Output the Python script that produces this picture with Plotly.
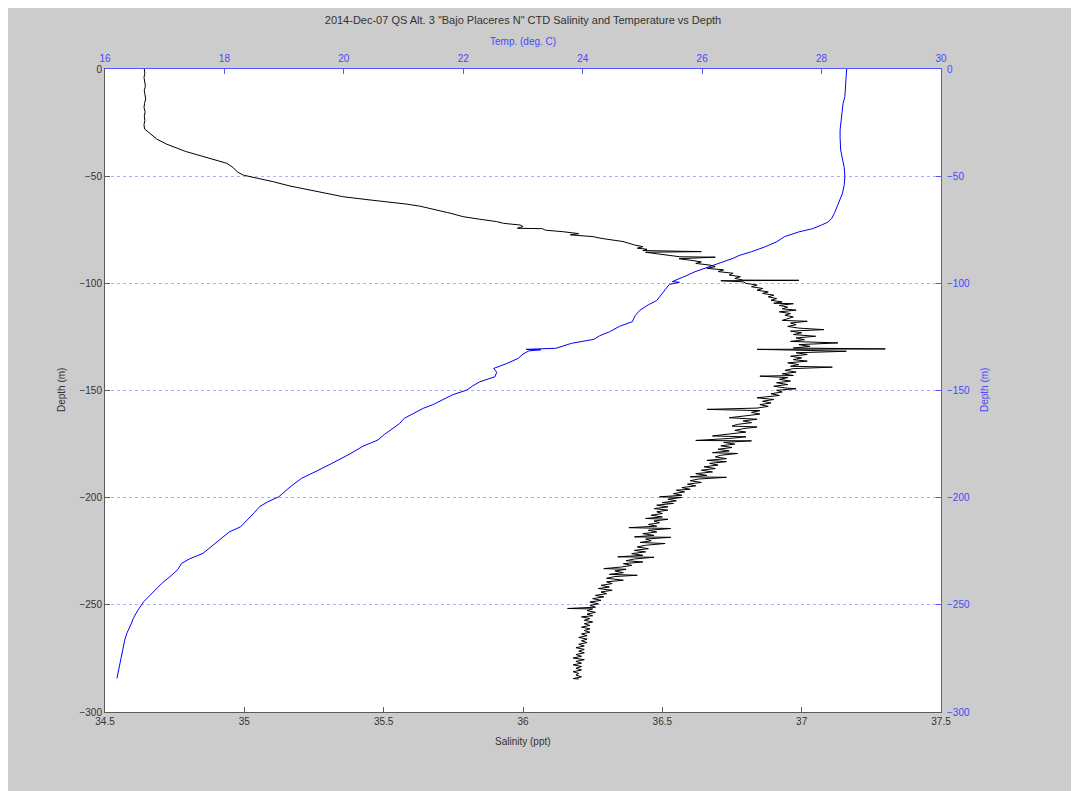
import plotly.graph_objects as go

# ---------------- data ----------------
sal_depth = [0, 2, 4, 6, 8, 10, 12, 14, 16, 18, 20, 22, 24, 26, 28,
             29.5, 31, 32.7, 35, 37, 38.5, 40.4, 42, 44, 46, 48, 49.5, 51, 52.6, 54.6, 56.5, 58, 59.6, 61.1,
             62.0, 63.0, 64.0, 65.0, 66.0, 67.0, 68.0, 68.9, 70.0, 71.2, 72.0, 72.8, 73.5, 74.3, 74.5, 75.2,
             75.9, 76.8, 77.4, 78.2, 79.0, 79.8, 80.5, 81.3, 82.1, 82.9, 83.6, 84.1, 84.7, 85.2, 85.5, 86.2,
             86.9, 87.6, 87.8, 88.5, 89.2, 90.0, 90.7, 91.5, 92.2, 93.0, 93.7, 94.5, 95.3, 96.1, 96.9, 97.7,
             98.5, 98.6, 98.8, 99.3,
             100.0, 100.8, 101.6, 102.4, 103.2, 104.0, 104.7, 105.5, 106.3, 107.1, 107.9, 108.7, 109.3, 109.5,
             110.3, 111.1, 111.9, 112.5, 113.3, 114.1, 114.9, 115.7, 116.5, 117.3, 117.7, 118.5, 119.3, 120.1,
             120.9, 121.6, 122.3, 123.1, 123.9, 124.7, 125.5, 126.3, 127.1, 127.8, 128.6, 129.4, 130.2, 130.6,
             130.8, 131.2, 131.7, 132.4, 133.2, 134.0, 134.8, 135.6, 136.3, 137.1, 137.9, 138.7, 139.1, 139.8,
             140.6, 141.4, 142.2, 143.0, 143.3, 144.0, 144.8, 145.6, 146.4, 147.2, 148.0, 148.8, 149.2, 149.9,
             150.7, 151.5, 152.3, 153.0, 153.4, 154.2, 155.0, 155.8, 156.6, 157.4, 158.2, 158.8, 159.4, 160.2,
             161.0, 161.8, 162.7, 163.4, 164.2, 165.0, 165.8, 166.6, 167.0, 167.8, 168.6, 169.4, 170.2, 171.2,
             171.6, 172.4, 173.3, 173.5, 174.2, 175.0, 175.8, 176.6, 177.4, 178.2, 179.0, 179.4, 180.2, 181.0,
             181.8, 182.6, 183.2, 184.0, 184.8, 185.6, 186.4, 187.2, 188.0, 188.8, 189.6, 190.3, 190.5, 191.3,
             192.1, 192.9, 193.7, 194.5, 195.3, 196.1, 196.5, 197.3, 198.1, 198.9, 199.6, 199.9, 200.7, 201.5,
             202.3, 202.7, 203.5, 204.3, 205.1, 205.8, 206.6, 207.4, 208.2, 209.0, 209.7, 210.1, 210.9, 211.7,
             212.5, 213.3, 214.0, 214.4, 215.2, 216.0, 216.8, 217.6, 218.3, 218.5, 219.3, 220.1, 220.9, 221.4,
             222.2, 223.0, 223.8, 224.6, 225.3, 226.1, 226.9, 227.6, 227.8, 228.6, 229.4, 230.0, 230.8, 231.6,
             232.4, 233.1, 233.4, 234.2, 235.0, 235.8, 236.2, 236.8, 237.6, 238.5, 239.3, 240.1, 240.9, 241.7,
             242.4, 243.2, 244.0, 244.8, 245.6, 246.3, 247.1, 247.9, 248.7, 249.5, 250.3, 251.1, 251.7, 251.9,
             252.7, 253.5, 254.3, 255.1, 255.6, 256.4, 257.2, 258.0, 258.8, 259.6, 260.4, 261.2, 262.0, 262.8,
             263.6, 264.4, 265.2, 266.0, 266.8, 267.6, 268.4, 269.2, 270.0, 270.8, 271.6, 272.4, 273.2, 274.0,
             274.8, 275.6, 276.4, 277.2, 278.0, 278.8, 279.6, 280.4, 281.2, 282.0, 282.8, 283.6, 284.4, 284.6]

salinity = [34.641, 34.643, 34.640, 34.642, 34.645, 34.641, 34.643, 34.646, 34.642, 34.640, 34.644, 34.641, 34.643, 34.640, 34.642,
            34.655, 34.668, 34.686, 34.72, 34.757, 34.79, 34.841, 34.88, 34.937, 34.96, 34.975, 34.996, 35.05, 35.104, 35.164, 35.236, 35.29, 35.355, 35.451,
            35.52, 35.58, 35.63, 35.666, 35.70, 35.73, 35.76, 35.785, 35.84, 35.906, 35.93, 35.99, 36.00, 35.98, 36.07, 36.08,
            36.143, 36.20, 36.17, 36.251, 36.28, 36.33, 36.359, 36.38, 36.40, 36.43, 36.41, 36.445, 36.43, 36.64, 36.44, 36.48,
            36.52, 36.563, 36.69, 36.56, 36.60, 36.64, 36.62, 36.671, 36.69, 36.66, 36.72, 36.70, 36.754, 36.74, 36.78, 36.76,
            36.79, 36.99, 36.71, 36.79,
            36.80, 36.84, 36.82, 36.86, 36.84, 36.88, 36.86, 36.90, 36.88, 36.91, 36.89, 36.93, 36.90, 36.97,
            36.92, 36.95, 36.93, 36.98, 36.92, 36.96, 36.94, 36.97, 36.95, 36.93, 37.02, 36.96, 36.98, 36.95,
            36.99, 37.08, 36.96, 37.00, 36.97, 37.05, 36.98, 37.01, 36.96, 37.13, 36.99, 37.03, 36.97, 37.30,
            36.84, 37.00, 37.16, 36.98, 37.02, 36.96, 37.00, 36.97, 37.02, 36.95, 36.99, 36.96, 37.11, 36.97,
            36.94, 36.98, 36.93, 36.97, 36.85, 36.95, 36.92, 36.96, 36.91, 36.95, 36.90, 36.94, 36.98, 36.91,
            36.93, 36.89, 36.92, 36.87, 36.84, 36.90, 36.86, 36.89, 36.85, 36.88, 36.84, 36.66, 36.85, 36.82,
            36.85, 36.80, 36.74, 36.84, 36.79, 36.82, 36.77, 36.75, 36.84, 36.79, 36.76, 36.80, 36.75, 36.68,
            36.80, 36.74, 36.62, 36.82, 36.72, 36.76, 36.71, 36.75, 36.70, 36.74, 36.68, 36.77, 36.71, 36.69,
            36.73, 36.66, 36.73, 36.67, 36.70, 36.65, 36.69, 36.64, 36.68, 36.62, 36.66, 36.60, 36.73, 36.63,
            36.60, 36.64, 36.59, 36.62, 36.57, 36.60, 36.55, 36.58, 36.54, 36.57, 36.49, 36.57, 36.52, 36.55,
            36.50, 36.54, 36.48, 36.52, 36.47, 36.52, 36.48, 36.50, 36.46, 36.50, 36.44, 36.52, 36.47, 36.49,
            36.45, 36.48, 36.38, 36.53, 36.45, 36.48, 36.43, 36.47, 36.40, 36.53, 36.44, 36.46, 36.42, 36.51,
            36.44, 36.41, 36.45, 36.40, 36.44, 36.39, 36.43, 36.34, 36.47, 36.40, 36.37, 36.43, 36.36, 36.39,
            36.35, 36.29, 36.37, 36.33, 36.36, 36.31, 36.41, 36.33, 36.30, 36.36, 36.30, 36.32, 36.28, 36.31,
            36.27, 36.32, 36.28, 36.30, 36.26, 36.29, 36.25, 36.28, 36.24, 36.27, 36.24, 36.26, 36.16, 36.25,
            36.23, 36.26, 36.23, 36.25, 36.21, 36.24, 36.22, 36.25, 36.22, 36.24, 36.21, 36.24, 36.22, 36.24,
            36.21, 36.23, 36.20, 36.23, 36.21, 36.23, 36.20, 36.22, 36.19, 36.22, 36.20, 36.22, 36.19, 36.21,
            36.18, 36.22, 36.19, 36.21, 36.18, 36.21, 36.19, 36.21, 36.18, 36.20, 36.19, 36.21, 36.18, 36.20]

temp_depth = [0, 4, 8, 12.9, 16, 20, 24, 28.4, 32, 37.8, 42, 46, 50.2, 54, 58, 61, 64.2, 67, 69.7, 71.5,
              72.8, 74.5, 76, 78.2, 80.6, 83, 85.2, 87, 88.3, 90, 91.5, 93, 94.6, 96.5, 98.5, 99.2, 99.5,
              100.5, 103, 106.2, 108, 110, 112.5, 115, 117.9, 120, 122.6, 124.5, 126.1, 128, 129.5, 130.3,
              130.8, 131.0, 131.5, 133, 135, 137.5, 139.7, 141.5, 143.6, 145.9, 147.8, 149.8, 152, 154.5,
              156.5, 158.3, 160.5, 163, 165.5, 168, 170.5, 173.1, 176, 179.3, 181.5, 184, 187.5, 191, 195,
              199.6, 202, 204.2, 207, 210, 213.6, 216, 219, 222.5, 226, 228.5, 230.7, 233.5, 236.1, 240,
              244.7, 248.5, 252.5, 256, 259.4, 263, 266.5, 270.5, 275, 279.5, 284.3]

temperature = [28.42, 28.41, 28.40, 28.39, 28.36, 28.34, 28.32, 28.31, 28.31, 28.32, 28.35, 28.38, 28.39, 28.38,
               28.35, 28.31, 28.26, 28.22, 28.17, 28.10, 28.00, 27.85, 27.62, 27.38, 27.25, 27.05, 26.83, 26.62,
               26.52, 26.35, 26.19, 26.02, 25.88, 25.73, 25.57, 25.50, 25.62, 25.45, 25.38, 25.29, 25.24, 25.10,
               24.96, 24.88, 24.83, 24.62, 24.45, 24.28, 24.19, 23.81, 23.62, 23.55, 23.05, 23.30, 23.10, 23.00,
               22.92, 22.72, 22.51, 22.56, 22.53, 22.28, 22.16, 22.06, 21.82, 21.64, 21.50, 21.33, 21.18, 21.01,
               20.93, 20.80, 20.68, 20.57, 20.32, 20.12, 19.98, 19.80, 19.55, 19.29, 19.10, 18.91, 18.72, 18.59,
               18.50, 18.40, 18.27, 18.08, 17.95, 17.80, 17.64, 17.42, 17.28, 17.22, 17.12, 16.95, 16.78, 16.65,
               16.55, 16.48, 16.43, 16.37, 16.33, 16.30, 16.27, 16.23, 16.20]

sal_ticks = [34.5, 35, 35.5, 36, 36.5, 37, 37.5]
sal_tick_text = ["34.5", "35", "35.5", "36", "36.5", "37", "37.5"]
temp_ticks = [16, 18, 20, 22, 24, 26, 28, 30]
depth_ticks = [-300, -250, -200, -150, -100, -50, 0]

title_text = '2014-Dec-07 QS Alt. 3 "Bajo Placeres N" CTD Salinity and Temperature vs Depth'

# ---------------- styling ----------------
GRAY_AX = "#5a5a5a"
GRAY_TXT = "#333333"
BLUE_AX = "#5555ff"
BLUE_TXT = "#4848ff"
FONT = "Liberation Sans, Arial, sans-serif"

fig = go.Figure()
fig.add_trace(go.Scatter(x=salinity, y=[-d for d in sal_depth], mode="lines",
                         line=dict(color="#000000", width=1), xaxis="x", yaxis="y",
                         showlegend=False))
fig.add_trace(go.Scatter(x=temperature, y=[-d for d in temp_depth], mode="lines",
                         line=dict(color="#0000ff", width=1), xaxis="x2", yaxis="y2",
                         showlegend=False))

# page has an 8px body margin; coordinates below are in figure pixels
W, H = 1079, 791
L, R, T, B = 97, 933, 61, 704


def px_x(p):
    return (p - L) / (R - L)


def px_y(p):
    return (B - p) / (B - T)


axis_common = dict(ticks="inside", ticklen=5, tickwidth=1, showline=True, linewidth=1,
                   zeroline=False, showgrid=False)

fig.update_layout(
    width=W, height=H,
    margin=dict(l=L, r=W - R, t=T, b=H - B, pad=0),
    paper_bgcolor="#cccccc",
    plot_bgcolor="#ffffff",
    font=dict(family=FONT, size=10, color=GRAY_TXT),
    title=dict(text=title_text, x=(L + R) / 2 / W, xanchor="center",
               y=1 - 12 / H, yanchor="middle", yref="container",
               font=dict(size=11, color=GRAY_TXT, family=FONT)),
    xaxis=dict(range=[34.5, 37.5], tickvals=sal_ticks, ticktext=sal_tick_text,
               linecolor=GRAY_AX, tickcolor=GRAY_AX, tickfont=dict(color=GRAY_TXT, size=10),
               side="bottom", **axis_common),
    xaxis2=dict(range=[16, 30], tickvals=temp_ticks, overlaying="x", side="top",
                linecolor=BLUE_AX, tickcolor=BLUE_AX, tickfont=dict(color=BLUE_TXT, size=10),
                ticklabelstandoff=2, **axis_common),
    yaxis=dict(range=[-300, 0], tickvals=depth_ticks,
               linecolor=GRAY_AX, tickcolor=GRAY_AX, tickfont=dict(color=GRAY_TXT, size=10),
               side="left", **axis_common),
    yaxis2=dict(range=[-300, 0], tickvals=depth_ticks, overlaying="y", side="right",
                linecolor=BLUE_AX, tickcolor=BLUE_AX, tickfont=dict(color=BLUE_TXT, size=10),
                ticks="inside", ticklen=5, tickwidth=1, showline=True, linewidth=1, zeroline=False,
                ticklabelstandoff=3,
                showgrid=True, gridcolor="rgba(120,120,255,0.6)", griddash="dot", gridwidth=1),
    annotations=[
        dict(text="Salinity (ppt)", x=(L + R) / 2 / W * W / (R - L) - L / (R - L), y=px_y(734),
             xref="paper", yref="paper",
             showarrow=False, font=dict(size=10, color=GRAY_TXT), xanchor="center", yanchor="middle"),
        dict(text="Temp. (deg. C)", x=0.5, y=px_y(34), xref="paper", yref="paper",
             showarrow=False, font=dict(size=10, color=BLUE_TXT), xanchor="center", yanchor="middle"),
        dict(text="Depth (m)", x=px_x(54), y=px_y(382), xref="paper", yref="paper", textangle=-90,
             showarrow=False, font=dict(size=10, color=GRAY_TXT), xanchor="center", yanchor="middle"),
        dict(text="Depth (m)", x=px_x(977), y=px_y(382), xref="paper", yref="paper", textangle=-90,
             showarrow=False, font=dict(size=10, color=BLUE_TXT), xanchor="center", yanchor="middle"),
    ],
)

fig.write_html("out.html")
